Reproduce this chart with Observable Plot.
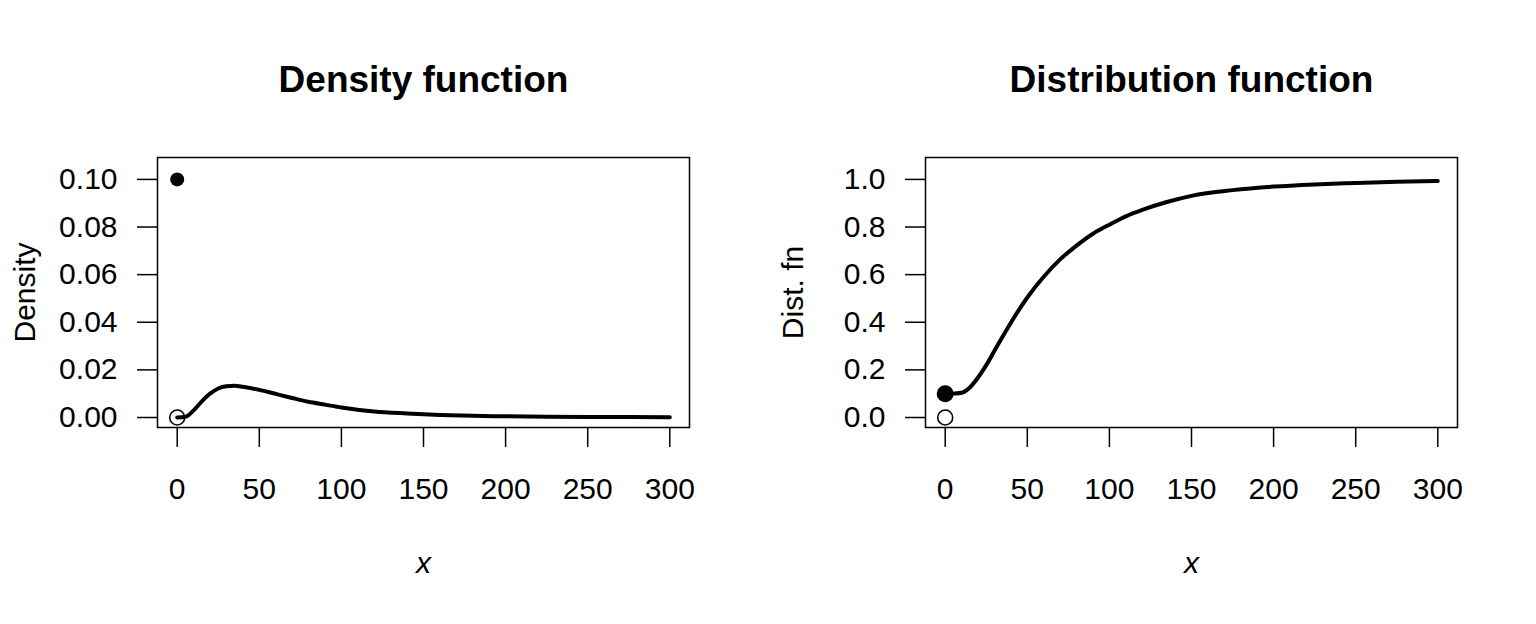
<!DOCTYPE html>
<html>
<head>
<meta charset="utf-8">
<script src="https://cdn.jsdelivr.net/npm/d3@7"></script>
<script src="https://cdn.jsdelivr.net/npm/@observablehq/plot@0.6"></script>
<style>
  html, body { margin: 0; padding: 0; background: #fff; }
  #charts { display: flex; width: 1536px; height: 624px; }
  #charts svg { display: block; }
</style>
</head>
<body>
<div id="charts"></div>
<script>
// Continuous part of the density (x, f(x)), sampled along the curve
const densX = [0, 5, 10, 15, 20, 25, 30, 35, 40, 50, 60, 70, 80, 90, 100, 120, 140, 160, 180, 200, 225, 250, 275, 300];
const densY = [0, 0.0003, 0.0030, 0.0068, 0.0100, 0.0122, 0.0131, 0.0133, 0.0129, 0.0116, 0.0099, 0.0082, 0.0066, 0.0054, 0.0042, 0.0025, 0.0017, 0.0011, 0.0007, 0.0005, 0.0003, 0.0002, 0.0002, 0.0001];

// Distribution function (x, F(x)) from the jump at zero onwards
const cdfX = [0, 5, 10, 15, 20, 25, 30, 35, 40, 45, 50, 60, 70, 80, 90, 100, 110, 120, 135, 150, 175, 200, 225, 250, 275, 300];
const cdfY = [0.100, 0.101, 0.104, 0.126, 0.168, 0.220, 0.280, 0.340, 0.398, 0.453, 0.504, 0.591, 0.664, 0.722, 0.772, 0.810, 0.845, 0.872, 0.905, 0.931, 0.955, 0.970, 0.979, 0.985, 0.990, 0.993];

// Point mass at zero: probability and the value just below the jump
const massAt = [0];
const massProb = [0.1];
const belowJump = [0];

// Axis ticks
const xTicks = [0, 50, 100, 150, 200, 250, 300];
const densTicks = [0, 0.02, 0.04, 0.06, 0.08, 0.10];
const cdfTicks = [0, 0.2, 0.4, 0.6, 0.8, 1.0];

const FONT = "'Liberation Sans', Arial, Helvetica, sans-serif";

function panel({title, ylab, xs, ys, yTicks, yFormat, yMax, dotR}) {
  const pad = 0.04 * yMax;
  const pts = d3.range(xs.length);
  return Plot.plot({
    width: 768,
    height: 624,
    marginLeft: 157,
    marginRight: 79,
    marginTop: 157,
    marginBottom: 197,
    style: {fontFamily: FONT, fontSize: "30px", color: "black", background: "white"},
    x: {domain: [-12, 312]},
    y: {domain: [-pad, yMax + pad]},
    marks: [
      Plot.frame({stroke: "black", strokeWidth: 1.5}),
      Plot.axisX({ticks: xTicks, tickFormat: d3.format("d"), tickSize: 20, tickPadding: 30,
                  strokeWidth: 1.5, fontSize: 30, label: null}),
      Plot.axisY({ticks: yTicks, tickFormat: d3.format(yFormat), tickSize: 20, tickPadding: 20,
                  strokeWidth: 1.5, fontSize: 30, label: null}),
      Plot.line(pts, {x: (i) => xs[i], y: (i) => ys[i], curve: "monotone-x",
                      stroke: "black", strokeWidth: 4}),
      Plot.dot(massAt, {x: (d) => d, y: (d, i) => massProb[i], r: dotR, fill: "black", stroke: "none"}),
      Plot.dot(massAt, {x: (d) => d, y: (d, i) => belowJump[i], r: 7.5, fill: "none",
                        stroke: "black", strokeWidth: 1.6}),
      Plot.text([title], {frameAnchor: "top", lineAnchor: "middle", dy: -77,
                          fontSize: 37, fontWeight: "bold"}),
      Plot.text([ylab], {frameAnchor: "left", textAnchor: "middle", lineAnchor: "middle",
                         dx: -132, rotate: -90, fontSize: 30}),
      Plot.text(["x"], {frameAnchor: "bottom", lineAnchor: "middle", dy: 136,
                        fontSize: 30, fontStyle: "italic"})
    ]
  });
}

const host = document.getElementById("charts");
host.appendChild(panel({
  title: "Density function", ylab: "Density",
  xs: densX, ys: densY, yTicks: densTicks, yFormat: ".2f", yMax: 0.105, dotR: 7
}));
host.appendChild(panel({
  title: "Distribution function", ylab: "Dist. fn",
  xs: cdfX, ys: cdfY, yTicks: cdfTicks, yFormat: ".1f", yMax: 1.05, dotR: 8.5
}));
</script>
</body>
</html>
